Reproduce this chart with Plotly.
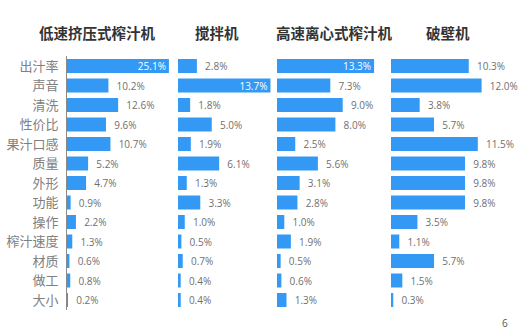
import plotly.graph_objects as go

W, H = 524, 329

categories = ["出汁率", "声音", "清洗", "性价比", "果汁口感", "质量", "外形", "功能",
              "操作", "榨汁速度", "材质", "做工", "大小"]
titles = ["低速挤压式榨汁机", "搅拌机", "高速离心式榨汁机", "破壁机"]
low_speed = [25.1, 10.2, 12.6, 9.6, 10.7, 5.2, 4.7, 0.9, 2.2, 1.3, 0.6, 0.8, 0.2]
blender = [2.8, 13.7, 1.8, 5.0, 1.9, 6.1, 1.3, 3.3, 1.0, 0.5, 0.7, 0.4, 0.4]
high_speed = [13.3, 7.3, 9.0, 8.0, 2.5, 5.6, 3.1, 2.8, 1.0, 1.9, 0.5, 0.6, 1.3]
wall_breaker = [10.3, 12.0, 3.8, 5.7, 11.5, 9.8, 9.8, 9.8, 3.5, 1.1, 5.7, 1.5, 0.3]

series = [low_speed, blender, high_speed, wall_breaker]
inside_max = [True, True, True, False]
# pixel domains and px-per-unit scales for each panel
panels = [(67, 175, 4.06), (178, 272, 6.75), (277, 385, 7.3), (391, 520, 7.55)]
title_x = [97, 217, 334, 448]

BLUE = "#3399F5"
GRAY = "#707070"
CJK = "Noto Sans CJK SC"

fig = go.Figure()
for i, vals in enumerate(series):
    mx = max(vals)
    texts, pos, colors = [], [], []
    for v in vals:
        if v == mx and inside_max[i]:
            texts.append(f"{v:.1f}%")
            pos.append("inside")
            colors.append("white")
        else:
            texts.append(f"  {v:.1f}%")
            pos.append("outside")
            colors.append(GRAY)
    ax = "" if i == 0 else str(i + 1)
    fig.add_trace(go.Bar(
        x=vals, y=categories, orientation="h",
        marker=dict(color=BLUE, line=dict(width=0)),
        width=0.72,
        text=texts, textposition=pos, insidetextanchor="end",
        textfont=dict(size=10, color=colors, family="Open Sans"),
        constraintext="none", cliponaxis=False,
        xaxis="x" + ax, yaxis="y", showlegend=False,
    ))

row = 19.5
top_px = 66 - row / 2
bot_px = top_px + row * 13
ydom = [(H - bot_px) / H, (H - top_px) / H]

layout = dict(
    width=W, height=H, margin=dict(l=0, r=0, t=0, b=0),
    paper_bgcolor="white", plot_bgcolor="white",
    bargap=0.28,
    yaxis=dict(domain=ydom, range=[12.5, -0.5], type="category",
               showline=True, linecolor="#8a8a8a", linewidth=1,
               showgrid=False, zeroline=False, ticks="", ticklabelstandoff=5,
               tickfont=dict(family=CJK, size=13, color="#808080"),
               anchor="x"),
)
for i, (a, b, s) in enumerate(panels):
    key = "xaxis" if i == 0 else f"xaxis{i+1}"
    layout[key] = dict(domain=[a / W, b / W], range=[0, (b - a) / s],
                       visible=False, anchor="y", fixedrange=True)

annotations = []
for t, x in zip(titles, title_x):
    annotations.append(dict(text=f"<b>{t}</b>", x=x / W, y=(H - 33) / H,
                            xref="paper", yref="paper", showarrow=False,
                            xanchor="center", yanchor="middle",
                            font=dict(family=CJK, size=14.5, color="#333333")))
annotations.append(dict(text="6", x=505 / W, y=(H - 323) / H, xref="paper", yref="paper",
                        showarrow=False, xanchor="center", yanchor="middle",
                        font=dict(family="Open Sans", size=10, color="#555555")))
layout["annotations"] = annotations
fig.update_layout(**layout)
fig.write_html("out.html")
